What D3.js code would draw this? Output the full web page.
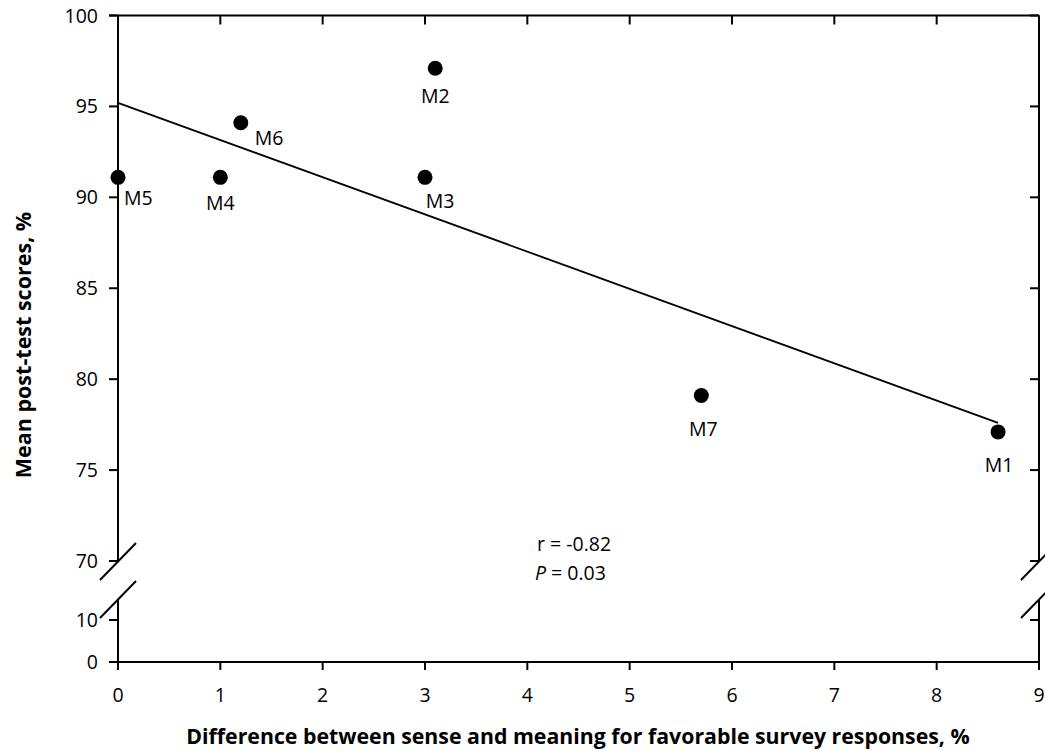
<!DOCTYPE html>
<html><head><meta charset="utf-8">
<script src="https://cdn.jsdelivr.net/npm/d3@7"></script>
<style>body{margin:0;background:#fff}svg{display:block}text{font-family:"Open Sans","Noto Sans",sans-serif;fill:#000}</style>
</head><body><svg id="c" width="1045" height="751"></svg>
<script>
const names = ["M5","M4","M6","M3","M2","M7","M1"];
const xVals = [0, 1, 1.2, 3, 3.1, 5.7, 8.6];
const yVals = [91.1, 91.1, 94.1, 91.1, 97.1, 79.1, 77.1];
const lineX = [0, 8.6];
const lineY = [95.2, 77.6];
const xTicks = [0,1,2,3,4,5,6,7,8,9];
const yTicksUpper = [70,75,80,85,90,95,100];
const yTicksLower = [0,10];
const stats = ["r = -0.82", "0.03"];

const svg = d3.select("#c");
const x = d3.scaleLinear().domain([0,9]).range([118,1039]);
const yU = d3.scaleLinear().domain([70,100]).range([561,15.5]);
const yL = d3.scaleLinear().domain([0,10]).range([662,620]);
const breakTop = yU(70), breakBot = 599;

const g = svg.append("g");
// label offsets per point [dx, dy(baseline), anchor]
const lab = {M5:[6,28,"start"],M4:[0,33,"middle"],M6:[14,22,"start"],M3:[15,31,"middle"],M2:[0,35,"middle"],M7:[2,40,"middle"],M1:[1,40,"middle"]};

const ax = g.append("g").attr("stroke","#000").attr("stroke-width",2).attr("fill","none");
ax.append("line").attr("x1",x(0)).attr("x2",x(0)).attr("y1",yU(100)).attr("y2",breakTop);
ax.append("line").attr("x1",x(0)).attr("x2",x(0)).attr("y1",breakBot).attr("y2",yL(0)+8);
ax.append("line").attr("x1",x(9)).attr("x2",x(9)).attr("y1",yU(100)).attr("y2",breakTop);
ax.append("line").attr("x1",x(9)).attr("x2",x(9)).attr("y1",breakBot).attr("y2",yL(0)+8);
ax.append("line").attr("x1",x(0)-9).attr("x2",x(9)).attr("y1",yL(0)).attr("y2",yL(0));
ax.append("line").attr("x1",x(0)-9).attr("x2",x(9)).attr("y1",yU(100)).attr("y2",yU(100));
[x(0), x(9)].forEach(px => {
  [breakTop, breakBot].forEach(py => {
    ax.append("line").attr("x1",px-18).attr("y1",py+19).attr("x2",px+18).attr("y2",py-18);
  });
});
yTicksUpper.forEach(v => {
  ax.append("line").attr("x1",x(0)-9).attr("x2",x(0)).attr("y1",yU(v)).attr("y2",yU(v));
  ax.append("line").attr("x1",x(9)-9).attr("x2",x(9)).attr("y1",yU(v)).attr("y2",yU(v));
});
yTicksLower.forEach(v => {
  ax.append("line").attr("x1",x(0)-9).attr("x2",x(0)).attr("y1",yL(v)).attr("y2",yL(v));
  ax.append("line").attr("x1",x(9)-9).attr("x2",x(9)).attr("y1",yL(v)).attr("y2",yL(v));
});
xTicks.forEach(v => {
  ax.append("line").attr("x1",x(v)).attr("x2",x(v)).attr("y1",yL(0)).attr("y2",yL(0)+8);
  ax.append("line").attr("x1",x(v)).attr("x2",x(v)).attr("y1",yU(100)).attr("y2",yU(100)+9);
});
const fs = 19.5;
yTicksUpper.forEach(v => g.append("text").attr("x",98).attr("y",yU(v)).attr("dy","0.36em").attr("text-anchor","end").attr("font-size",fs).text(v));
yTicksLower.forEach(v => g.append("text").attr("x",98).attr("y",yL(v)).attr("dy","0.36em").attr("text-anchor","end").attr("font-size",fs).text(v));
xTicks.forEach(v => g.append("text").attr("x",x(v)).attr("y",702).attr("text-anchor","middle").attr("font-size",fs).text(v));

g.append("line").attr("x1",x(lineX[0])).attr("y1",yU(lineY[0])).attr("x2",x(lineX[1])).attr("y2",yU(lineY[1])).attr("stroke","#000").attr("stroke-width",1.8);

const pts = names.map((n,i)=>({n, x:xVals[i], y:yVals[i]}));
g.selectAll("circle.p").data(pts).enter().append("circle").attr("cx",d=>x(d.x)).attr("cy",d=>yU(d.y)).attr("r",7.5).attr("fill","#000");
g.selectAll("text.l").data(pts).enter().append("text").attr("x",d=>x(d.x)+lab[d.n][0]).attr("y",d=>yU(d.y)+lab[d.n][1]).attr("text-anchor",d=>lab[d.n][2]).attr("font-size",fs).text(d=>d.n);

g.append("text").attr("x",537).attr("y",551).attr("font-size",fs).text(stats[0]);
const t2 = g.append("text").attr("x",535).attr("y",580).attr("font-size",fs);
t2.append("tspan").attr("font-style","italic").text("P");
t2.append("tspan").text(" = " + stats[1]);

g.append("text").attr("x",578).attr("y",744).attr("text-anchor","middle").attr("font-size",21.3).attr("font-weight","bold").text("Difference between sense and meaning for favorable survey responses, %");
g.append("text").attr("transform","translate(31,345) rotate(-90)").attr("text-anchor","middle").attr("font-size",21.5).attr("font-weight","bold").text("Mean post-test scores, %");
</script></body></html>
